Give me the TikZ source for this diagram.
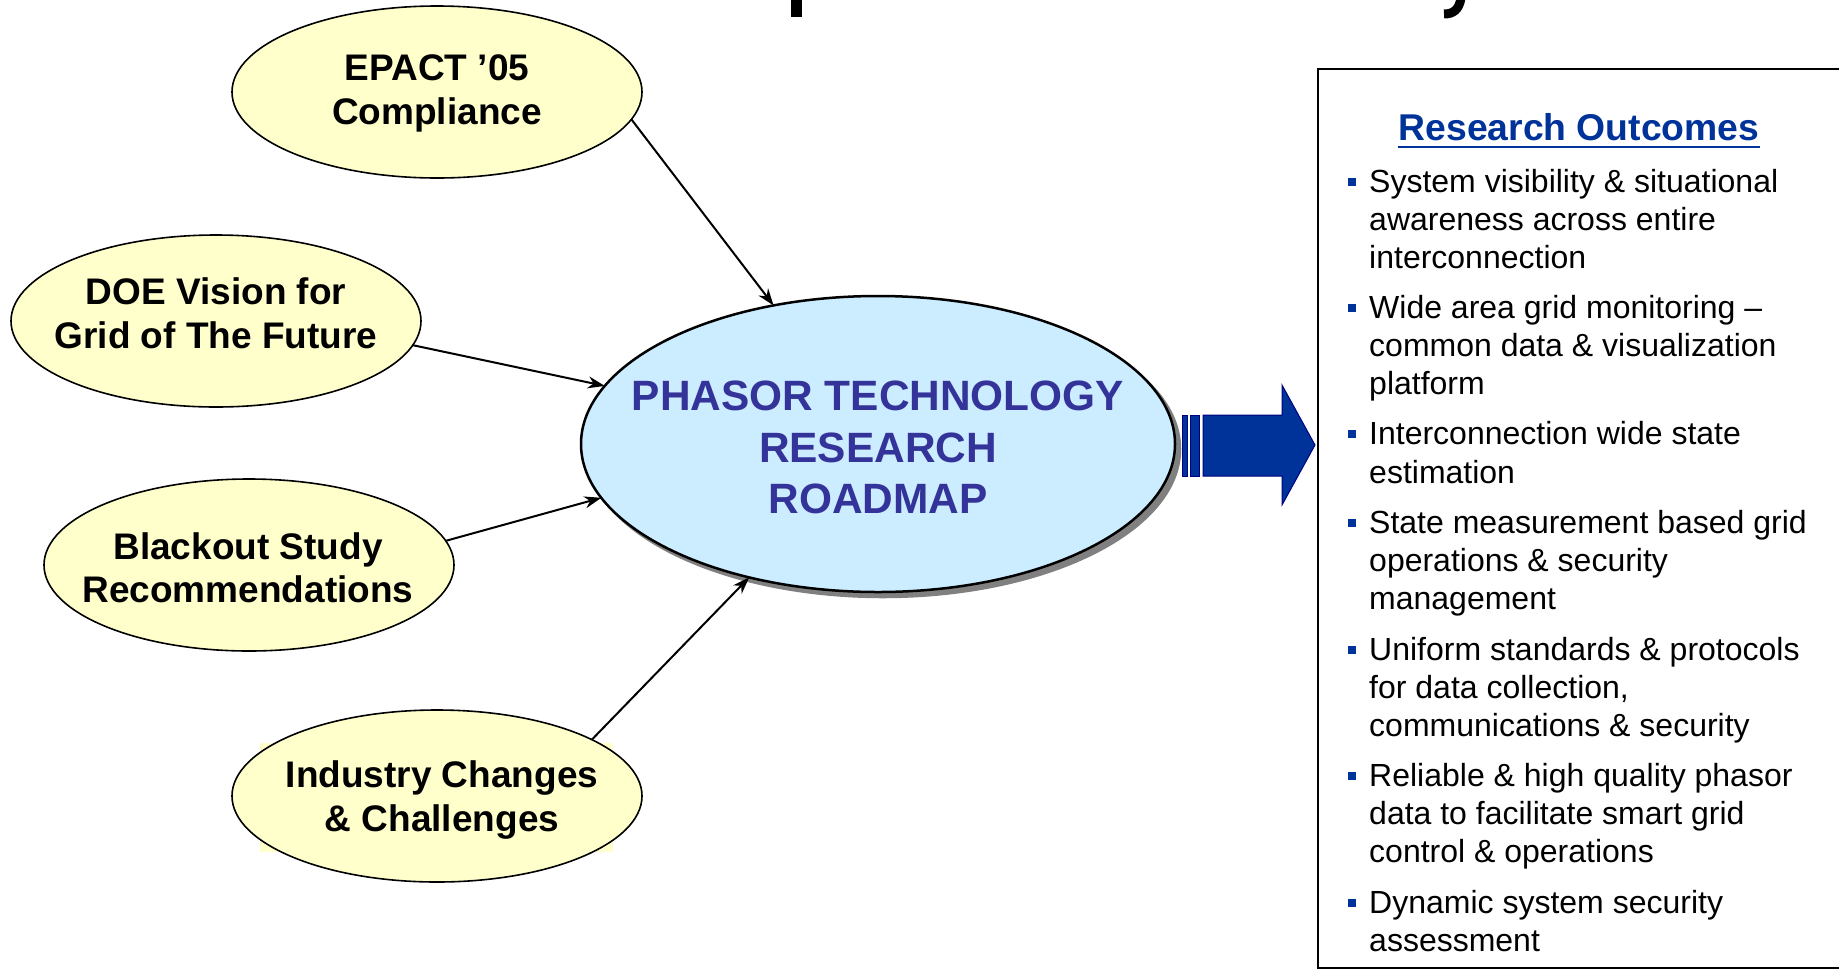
\documentclass[tikz,border=0pt]{standalone}
\usepackage{fontspec}
\setmainfont{Liberation Sans}
\usetikzlibrary{arrows.meta,shapes.geometric,shadows}
\definecolor{yel}{HTML}{FFFFCC}
\definecolor{lblue}{HTML}{CCECFF}
\definecolor{ctext}{HTML}{333399}
\definecolor{dblue}{HTML}{003399}
\definecolor{navy}{HTML}{000080}
\begin{document}
\begin{tikzpicture}[x=1pt,y=-1pt,
  yellowell/.style={ellipse, draw=black, line width=1.6pt, fill=yel, inner sep=0pt, outer sep=0pt, minimum width=410pt, minimum height=172pt},
  ytext/.style={anchor=base, inner sep=0pt, font=\fontsize{37}{44}\selectfont\bfseries},
  ctextstyle/.style={anchor=base, inner sep=0pt, text=ctext, font=\fontsize{42.4}{50}\selectfont\bfseries},
  conn/.style={line width=2pt, -{Stealth[length=17pt,width=12pt]}},
  bline/.style={anchor=base west, inner sep=0pt, font=\fontsize{32}{38}\selectfont},
  bsq/.style={fill=dblue, minimum size=7.7pt, inner sep=0pt, outer sep=0pt},
  arrowpart/.style={fill=dblue, draw=navy, line width=1pt}
]
\useasboundingbox (0,0) rectangle (1839,970);
\fill[white] (0,0) rectangle (1839,970);

% cut-off title fragments
\fill[black] (791,0) rectangle (802,17);
\draw[line width=9pt] (1461,-2) .. controls (1459,10) and (1453,14) .. (1444,14);

% outcomes box
\draw[line width=2pt] (1845,69) -- (1318,69) -- (1318,968) -- (1845,968);
\node[anchor=base, inner sep=0pt, text=dblue, font=\fontsize{37.3}{44}\selectfont\bfseries] (head) at (1579,140) {Research Outcomes};
\draw[dblue, line width=2.5pt] ([yshift=-7pt]head.base west) -- ([yshift=-7pt]head.base east);

\foreach \n/\y/\t in {
  1/192/{System visibility \& situational},
  2/230/{awareness across entire},
  3/268/{interconnection},
  4/318/{Wide area grid monitoring –},
  5/356/{common data \& visualization},
  6/394/{platform},
  7/444/{Interconnection wide state},
  8/483/{estimation},
  9/533/{State measurement based grid},
  10/571/{operations \& security},
  11/609/{management},
  12/660/{Uniform standards \& protocols},
  13/698/{for data collection,},
  14/736/{communications \& security},
  15/786/{Reliable \& high quality phasor},
  16/824/{data to facilitate smart grid},
  17/862/{control \& operations},
  18/913/{Dynamic system security},
  19/951/{assessment}}
  {\node[bline] (l\n) at (1369,\y) {\t};}

\foreach \n/\y in {1/182,2/308,3/434,4/523,5/650,6/776,7/903}
  {\node[bsq] (sq\n) at (1352,\y) {};}

% yellow text-box artefact behind industry ellipse
\fill[yel] (260,743) rectangle (613,852);

% input ellipses
\node[yellowell] (epact) at (437,92) {};
\node[yellowell] (doe) at (216,321) {};
\node[yellowell] (blackout) at (249,565) {};
\node[yellowell] (industry) at (437,796) {};

\node[ytext] (epact1) at (437,80) {EPACT ’05};
\node[ytext] (epact2) at (437,124) {Compliance};
\node[ytext] (doe1) at (216,304) {DOE Vision for};
\node[ytext] (doe2) at (216,348) {Grid of The Future};
\node[ytext] (bo1) at (248,559) {Blackout Study};
\node[ytext] (bo2) at (248,602) {Recommendations};
\node[ytext] (ind1) at (442,787) {Industry Changes};
\node[ytext] (ind2) at (442,831) {\& Challenges};

% central ellipse
\node[ellipse, draw=black, line width=2.5pt, fill=lblue, inner sep=0pt, outer sep=0pt,
      minimum width=594pt, minimum height=296pt,
      copy shadow={shadow xshift=5pt, shadow yshift=-5pt, fill=gray, draw=gray}] (center) at (878,444) {};
\node[ctextstyle] (c1) at (878,410) {PHASOR TECHNOLOGY};
\node[ctextstyle] (c2) at (878,462) {RESEARCH};
\node[ctextstyle] (c3) at (878,513) {ROADMAP};

% connectors
\draw[conn] (epact.-8) -- (center.127);
\draw[conn] (doe.-7.5) -- (center.168);
\draw[conn] (blackout.7.5) -- (center.191);
\draw[conn] (industry.20) -- (center.226);

% striped block arrow
\filldraw[arrowpart] (1182,415) rectangle (1187,476);
\filldraw[arrowpart] (1190,415) rectangle (1199.5,476);
\filldraw[arrowpart] (1203,415) -- (1282,415) -- (1282,385) -- (1315,445) -- (1282,505) -- (1282,476) -- (1203,476) -- cycle;
\end{tikzpicture}
\end{document}
